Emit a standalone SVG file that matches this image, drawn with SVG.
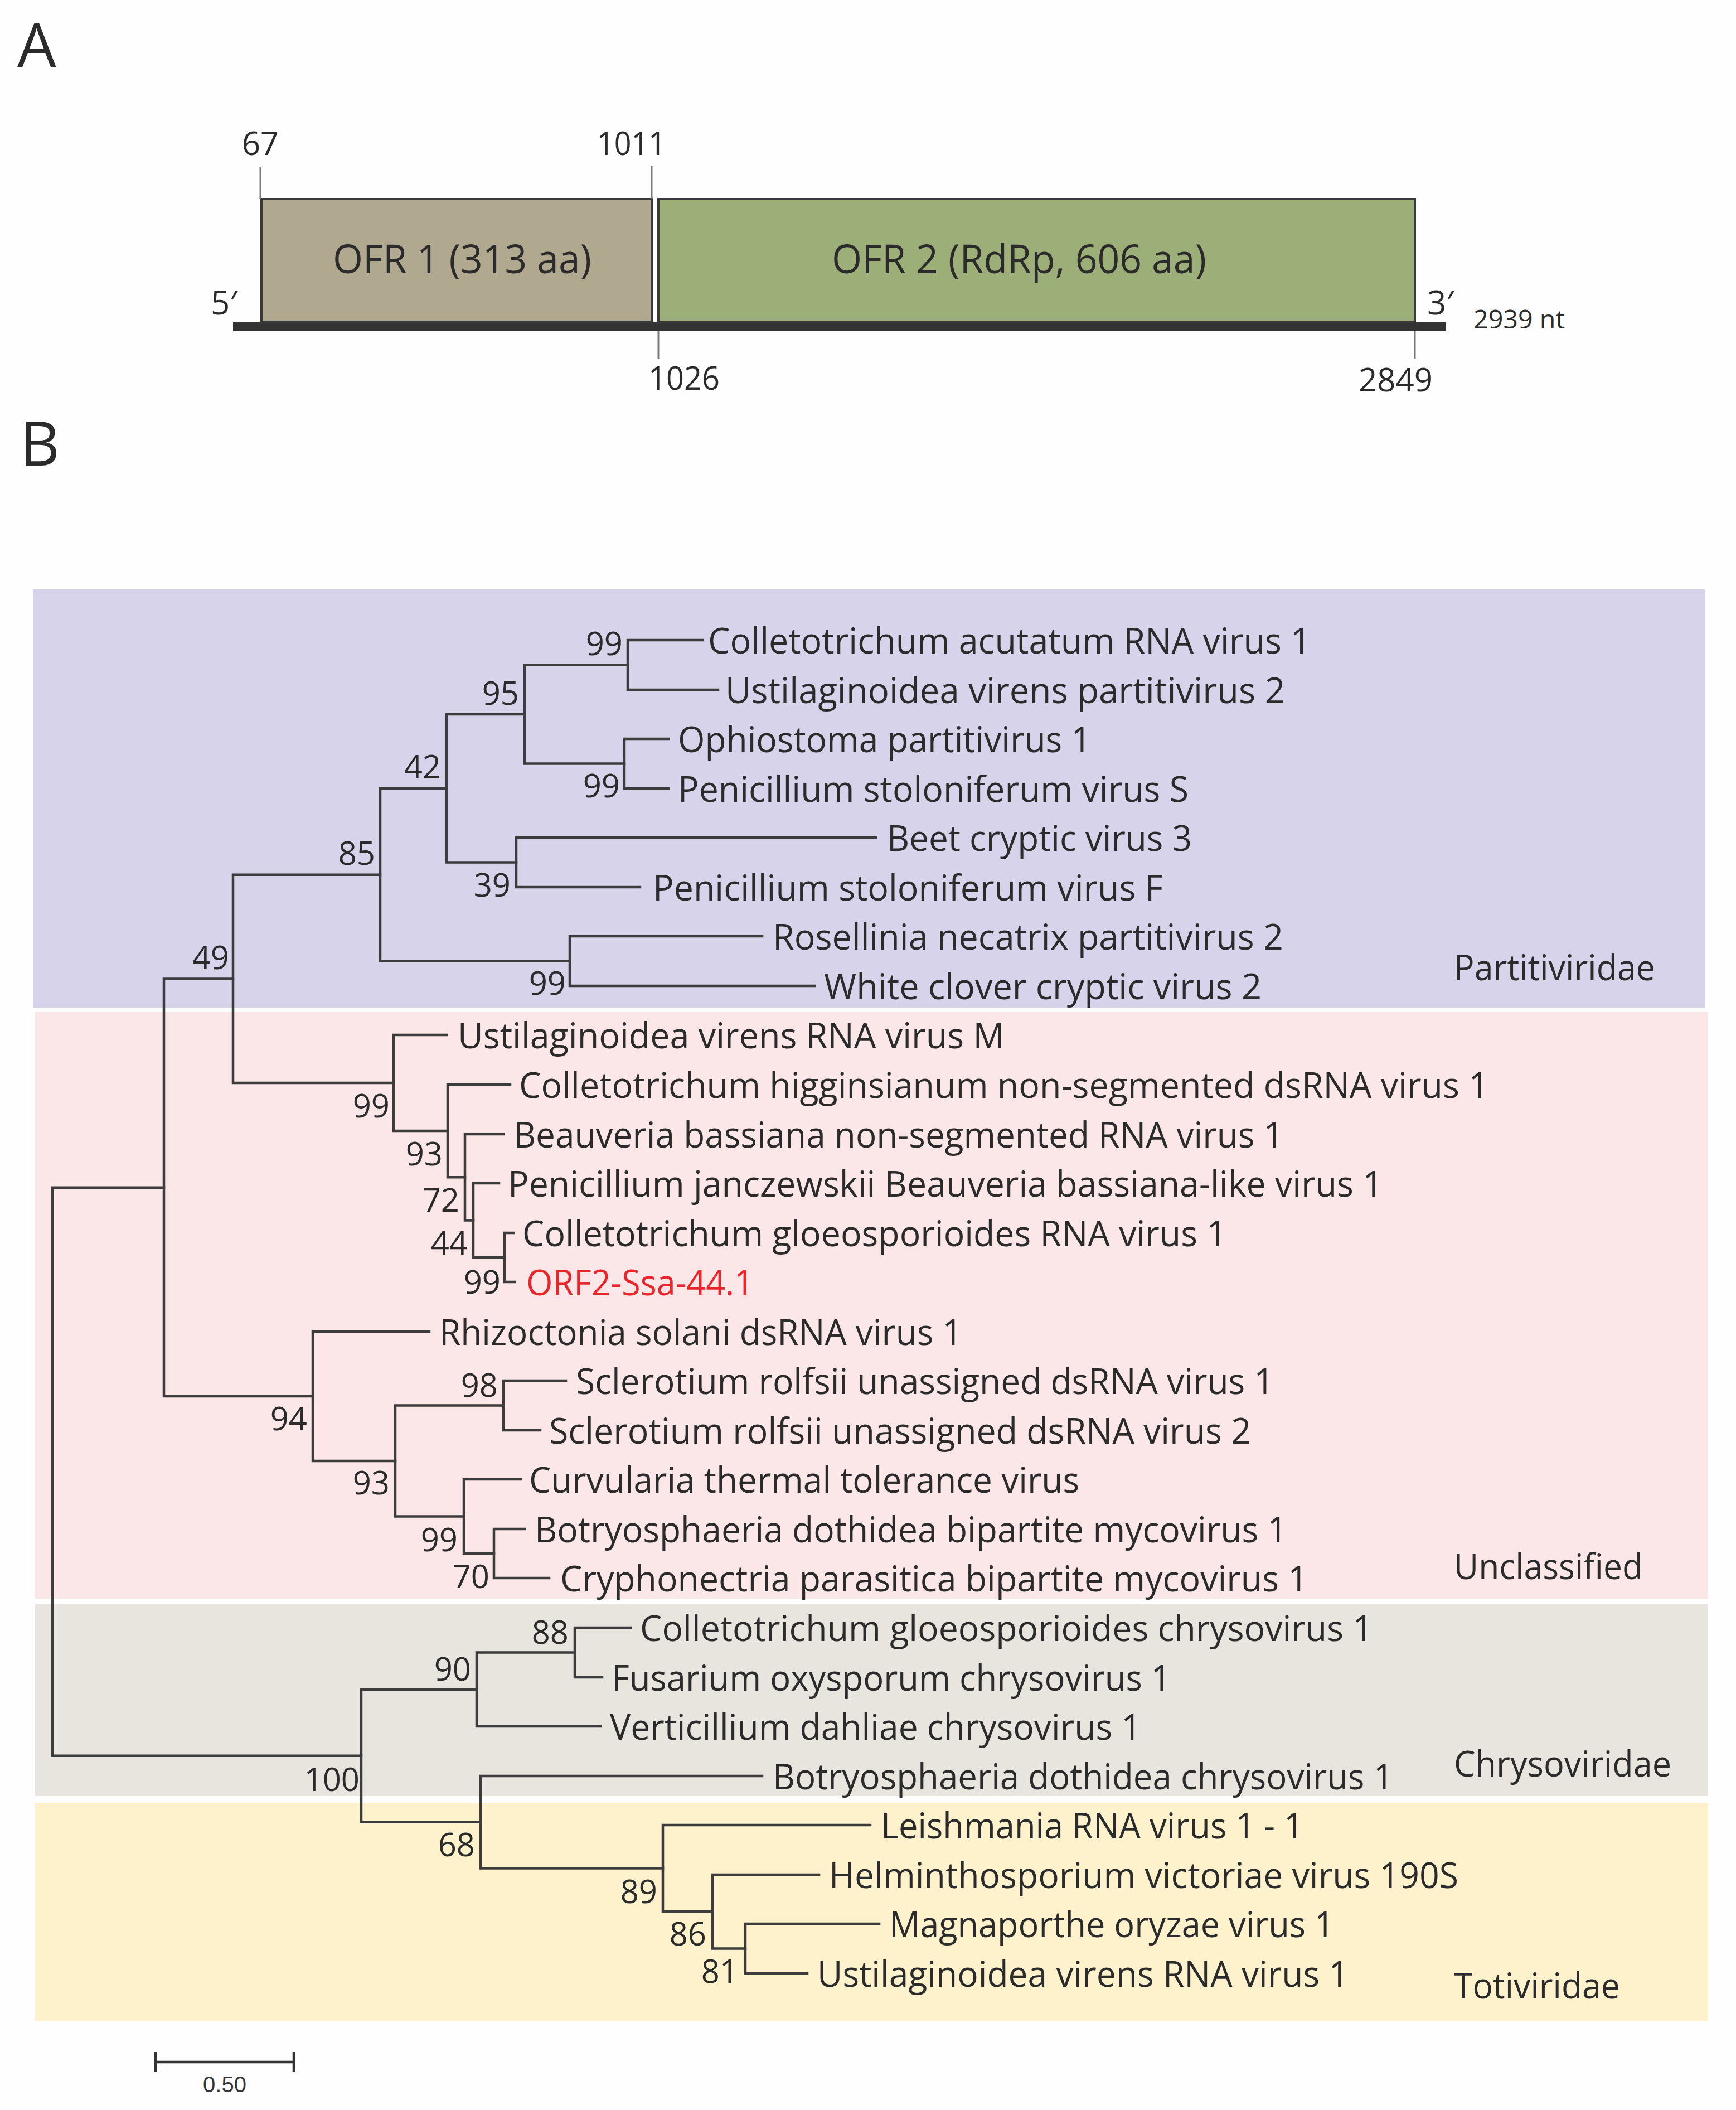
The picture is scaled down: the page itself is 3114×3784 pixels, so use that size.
<svg xmlns="http://www.w3.org/2000/svg" width="3114" height="3784" viewBox="0 0 3114 3784">
<style>
.t{font-family:"Open Sans","Liberation Sans",sans-serif;fill:#2b2b2b}
.tip{font-size:64px}
.bs{font-size:58px;text-anchor:end}
.grp{font-size:64px}
.num{font-size:58px}
.br{fill:none;stroke:#3c3c3c;stroke-width:4.5;stroke-linecap:square;stroke-linejoin:miter}
.tick{stroke:#7a7a7a;stroke-width:3}
.box{stroke:#3a3a3a;stroke-width:4}
</style>
<rect x="0" y="0" width="3114" height="3784" fill="#fefefe"/>

<!-- Panel A -->
<g id="panelA">
  <text class="t" x="31" y="120" font-size="110">A</text>
  <g id="genome-bar"><rect x="418" y="578" width="2175" height="16" fill="#333333"/></g>
  <g id="orf1">
    <rect class="box" x="469" y="357" width="700" height="220" fill="#b1a98f"/>
    <text class="t" x="597" y="490" font-size="71" textLength="464" lengthAdjust="spacingAndGlyphs">OFR 1 (313 aa)</text>
  </g>
  <g id="orf2">
    <rect class="box" x="1181" y="357" width="1357" height="220" fill="#9daf79"/>
    <text class="t" x="1492" y="490" font-size="71" textLength="672" lengthAdjust="spacingAndGlyphs">OFR 2 (RdRp, 606 aa)</text>
  </g>
  <g id="ticks">
    <line class="tick" x1="467" y1="299" x2="467" y2="356"/>
    <line class="tick" x1="1169" y1="298" x2="1169" y2="356"/>
    <line class="tick" x1="1181" y1="594" x2="1181" y2="643"/>
    <line class="tick" x1="2538" y1="594" x2="2538" y2="643"/>
  </g>
  <text class="t num" x="434" y="278" textLength="66" lengthAdjust="spacingAndGlyphs">67</text>
  <text class="t num" x="1071" y="278" textLength="123" lengthAdjust="spacingAndGlyphs">1011</text>
  <text class="t num" x="1163" y="699" textLength="128" lengthAdjust="spacingAndGlyphs">1026</text>
  <text class="t num" x="2437" y="702" textLength="133" lengthAdjust="spacingAndGlyphs">2849</text>
  <text class="t" x="378" y="564" font-size="60">5′</text>
  <text class="t" x="2560" y="564" font-size="60">3′</text>
  <text class="t" x="2643" y="589" font-size="46" textLength="164" lengthAdjust="spacingAndGlyphs">2939 nt</text>
</g>

<text class="t" x="36" y="835" font-size="110">B</text>

<!-- Clade backgrounds -->
<g id="backgrounds">
  <rect id="bg-partitiviridae" x="59" y="1057" width="3000" height="750" fill="#d6d3ea"/>
  <rect id="bg-unclassified" x="63" y="1815" width="3001" height="1052" fill="#fce7e8"/>
  <rect id="bg-chrysoviridae" x="63" y="2876" width="3001" height="345" fill="#e8e5de"/>
  <rect id="bg-totiviridae" x="63" y="3233" width="3001" height="391" fill="#fdf2cc"/>
</g>

<!-- Connectors (tree branches) -->
<g id="connectors">
  <path class="br" d="M294,2129.7 H94 V3148.8 H648"/>
  <path class="br" d="M418,1755.4 H294 V2504 H561"/>
  <path class="br" d="M682,1568.75 H418 V1942.06 H706"/>
  <path class="br" d="M801,1413.75 H682 V1723.5 H1022"/>
  <path class="br" d="M941,1281 H801 V1546.5 H926"/>
  <path class="br" d="M1126,1192.5 H941 V1369.5 H1120"/>
  <path class="br" d="M1260,1148 H1126 V1237 H1288"/>
  <path class="br" d="M1199,1325 H1120 V1414 H1199"/>
  <path class="br" d="M1571,1502 H926 V1591 H1148"/>
  <path class="br" d="M1367,1679 H1022 V1768 H1461"/>
  <path class="br" d="M801,1856 H706 V2028.1 H803"/>
  <path class="br" d="M915,1945 H803 V2111.25 H834"/>
  <path class="br" d="M903,2034 H834 V2188.5 H849"/>
  <path class="br" d="M895,2122 H849 V2255 H905"/>
  <path class="br" d="M921,2211 H905 V2299 H923"/>
  <path class="br" d="M770,2388 H561 V2620 H709"/>
  <path class="br" d="M903,2520.5 H709 V2719.5 H832"/>
  <path class="br" d="M1015,2476 H903 V2565 H969"/>
  <path class="br" d="M934,2653 H832 V2786 H886"/>
  <path class="br" d="M941,2742 H886 V2830 H985"/>
  <path class="br" d="M855,3029.75 H648 V3267.8 H862"/>
  <path class="br" d="M1031,2963.5 H855 V3096 H1077"/>
  <path class="br" d="M1131,2919 H1031 V3008 H1080"/>
  <path class="br" d="M1367,3185 H862 V3350.6 H1189"/>
  <path class="br" d="M1561,3273 H1189 V3428.25 H1278"/>
  <path class="br" d="M1469,3362 H1278 V3494.5 H1337"/>
  <path class="br" d="M1577,3450 H1337 V3539 H1448"/>
</g>

<!-- Internal nodes: bootstrap values -->
<g id="internal-nodes">
  <g id="n99a"><text class="t bs" x="1117" y="1175">99</text></g>
  <g id="n95"><text class="t bs" x="931" y="1264">95</text></g>
  <g id="n99b"><text class="t bs" x="1112" y="1430">99</text></g>
  <g id="n42"><text class="t bs" x="791" y="1396">42</text></g>
  <g id="n39"><text class="t bs" x="916" y="1608">39</text></g>
  <g id="n85"><text class="t bs" x="673" y="1551">85</text></g>
  <g id="n99c"><text class="t bs" x="1015" y="1784">99</text></g>
  <g id="n49"><text class="t bs" x="411" y="1738">49</text></g>
  <g id="n99d"><text class="t bs" x="699" y="2004">99</text></g>
  <g id="n93a"><text class="t bs" x="794" y="2090">93</text></g>
  <g id="n72"><text class="t bs" x="824" y="2173">72</text></g>
  <g id="n44"><text class="t bs" x="839" y="2250">44</text></g>
  <g id="n99e"><text class="t bs" x="898" y="2320">99</text></g>
  <g id="n94"><text class="t bs" x="551" y="2565">94</text></g>
  <g id="n93b"><text class="t bs" x="699" y="2680">93</text></g>
  <g id="n98"><text class="t bs" x="893" y="2505">98</text></g>
  <g id="n99f"><text class="t bs" x="821" y="2782">99</text></g>
  <g id="n70"><text class="t bs" x="878" y="2848">70</text></g>
  <g id="n88"><text class="t bs" x="1020" y="2948">88</text></g>
  <g id="n90"><text class="t bs" x="845" y="3014">90</text></g>
  <g id="n100"><text class="t bs" x="645" y="3212">100</text></g>
  <g id="n68"><text class="t bs" x="852" y="3329">68</text></g>
  <g id="n89"><text class="t bs" x="1179" y="3413">89</text></g>
  <g id="n86"><text class="t bs" x="1267" y="3489">86</text></g>
  <g id="n81"><text class="t bs" x="1324" y="3556">81</text></g>
</g>

<!-- Tips -->
<g id="tips">
  <g id="tip1"><text class="t tip" x="1270" y="1172" textLength="1081" lengthAdjust="spacingAndGlyphs">Colletotrichum acutatum RNA virus 1</text></g>
  <g id="tip2"><text class="t tip" x="1301" y="1261" textLength="1004" lengthAdjust="spacingAndGlyphs">Ustilaginoidea virens partitivirus 2</text></g>
  <g id="tip3"><text class="t tip" x="1216" y="1349" textLength="741" lengthAdjust="spacingAndGlyphs">Ophiostoma partitivirus 1</text></g>
  <g id="tip4"><text class="t tip" x="1216" y="1438" textLength="916" lengthAdjust="spacingAndGlyphs">Penicillium stoloniferum virus S</text></g>
  <g id="tip5"><text class="t tip" x="1591" y="1526" textLength="547" lengthAdjust="spacingAndGlyphs">Beet cryptic virus 3</text></g>
  <g id="tip6"><text class="t tip" x="1171" y="1615" textLength="915" lengthAdjust="spacingAndGlyphs">Penicillium stoloniferum virus F</text></g>
  <g id="tip7"><text class="t tip" x="1386" y="1703" textLength="916" lengthAdjust="spacingAndGlyphs">Rosellinia necatrix partitivirus 2</text></g>
  <g id="tip8"><text class="t tip" x="1478" y="1792" textLength="785" lengthAdjust="spacingAndGlyphs">White clover cryptic virus 2</text></g>
  <g id="tip9"><text class="t tip" x="821" y="1880" textLength="981" lengthAdjust="spacingAndGlyphs">Ustilaginoidea virens RNA virus M</text></g>
  <g id="tip10"><text class="t tip" x="931" y="1969" textLength="1739" lengthAdjust="spacingAndGlyphs">Colletotrichum higginsianum non-segmented dsRNA virus 1</text></g>
  <g id="tip11"><text class="t tip" x="921" y="2058" textLength="1381" lengthAdjust="spacingAndGlyphs">Beauveria bassiana non-segmented RNA virus 1</text></g>
  <g id="tip12"><text class="t tip" x="911" y="2146" textLength="1569" lengthAdjust="spacingAndGlyphs">Penicillium janczewskii Beauveria bassiana-like virus 1</text></g>
  <g id="tip13"><text class="t tip" x="937" y="2235" textLength="1263" lengthAdjust="spacingAndGlyphs">Colletotrichum gloeosporioides RNA virus 1</text></g>
  <g id="tip14"><text class="t tip" x="944" y="2323" textLength="408" lengthAdjust="spacingAndGlyphs" style="fill:#e8262a">ORF2-Ssa-44.1</text></g>
  <g id="tip15"><text class="t tip" x="788" y="2412" textLength="938" lengthAdjust="spacingAndGlyphs">Rhizoctonia solani dsRNA virus 1</text></g>
  <g id="tip16"><text class="t tip" x="1033" y="2500" textLength="1252" lengthAdjust="spacingAndGlyphs">Sclerotium rolfsii unassigned dsRNA virus 1</text></g>
  <g id="tip17"><text class="t tip" x="985" y="2589" textLength="1259" lengthAdjust="spacingAndGlyphs">Sclerotium rolfsii unassigned dsRNA virus 2</text></g>
  <g id="tip18"><text class="t tip" x="949" y="2677" textLength="987" lengthAdjust="spacingAndGlyphs">Curvularia thermal tolerance virus</text></g>
  <g id="tip19"><text class="t tip" x="959" y="2766" textLength="1350" lengthAdjust="spacingAndGlyphs">Botryosphaeria dothidea bipartite mycovirus 1</text></g>
  <g id="tip20"><text class="t tip" x="1005" y="2854" textLength="1341" lengthAdjust="spacingAndGlyphs">Cryphonectria parasitica bipartite mycovirus 1</text></g>
  <g id="tip21"><text class="t tip" x="1148" y="2943" textLength="1314" lengthAdjust="spacingAndGlyphs">Colletotrichum gloeosporioides chrysovirus 1</text></g>
  <g id="tip22"><text class="t tip" x="1097" y="3032" textLength="1003" lengthAdjust="spacingAndGlyphs">Fusarium oxysporum chrysovirus 1</text></g>
  <g id="tip23"><text class="t tip" x="1094" y="3120" textLength="953" lengthAdjust="spacingAndGlyphs">Verticillium dahliae chrysovirus 1</text></g>
  <g id="tip24"><text class="t tip" x="1386" y="3209" textLength="1113" lengthAdjust="spacingAndGlyphs">Botryosphaeria dothidea chrysovirus 1</text></g>
  <g id="tip25"><text class="t tip" x="1580" y="3297" textLength="758" lengthAdjust="spacingAndGlyphs">Leishmania RNA virus 1 - 1</text></g>
  <g id="tip26"><text class="t tip" x="1487" y="3386" textLength="1129" lengthAdjust="spacingAndGlyphs">Helminthosporium victoriae virus 190S</text></g>
  <g id="tip27"><text class="t tip" x="1595" y="3474" textLength="798" lengthAdjust="spacingAndGlyphs">Magnaporthe oryzae virus 1</text></g>
  <g id="tip28"><text class="t tip" x="1466" y="3563" textLength="953" lengthAdjust="spacingAndGlyphs">Ustilaginoidea virens RNA virus 1</text></g>
</g>

<!-- Clade labels -->
<g id="clade-labels">
  <text class="t grp" x="2608" y="1758" textLength="361" lengthAdjust="spacingAndGlyphs">Partitiviridae</text>
  <text class="t grp" x="2608" y="2832" textLength="339" lengthAdjust="spacingAndGlyphs">Unclassified</text>
  <text class="t grp" x="2608" y="3186" textLength="390" lengthAdjust="spacingAndGlyphs">Chrysoviridae</text>
  <text class="t grp" x="2608" y="3584" textLength="298" lengthAdjust="spacingAndGlyphs">Totiviridae</text>
</g>

<!-- Scale bar -->
<g id="scale-bar">
  <path d="M279,3698 H527 M279,3680 V3715 M527,3680 V3715" fill="none" stroke="#333333" stroke-width="4.5"/>
  <text x="403" y="3752" font-family="Liberation Sans, Arial, sans-serif" font-size="40" text-anchor="middle" fill="#333333">0.50</text>
</g>
</svg>
